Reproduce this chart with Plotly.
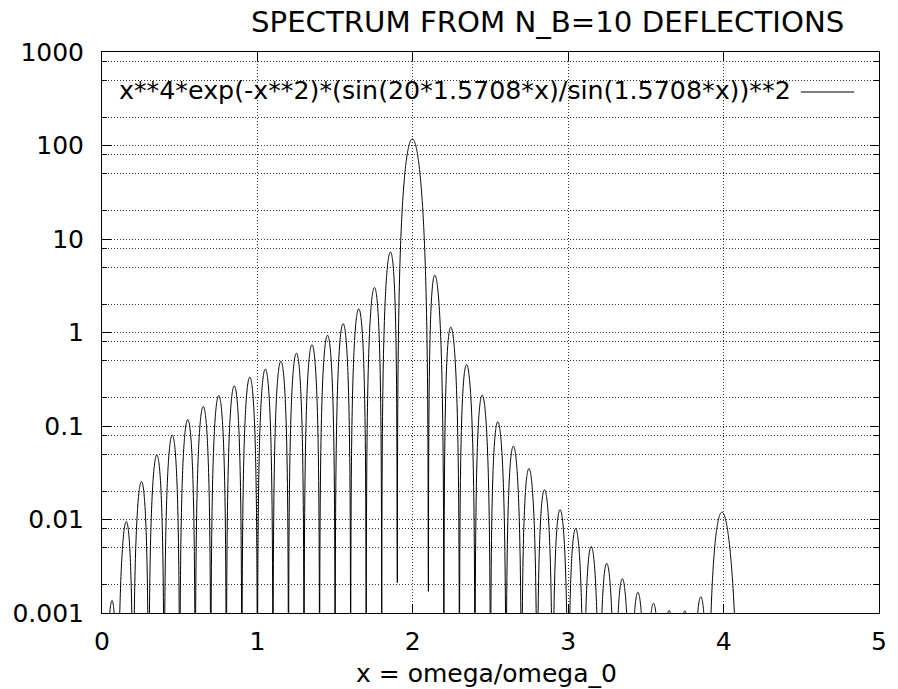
import numpy as np
import plotly.graph_objects as go

# ---- data (the plotted function, as stated in the chart's key) ----
x_min, x_max = 0.0, 5.0
n_samples = 5000
half_pi = 1.5708
n_factor = 20
x_vals = np.linspace(x_min, x_max, n_samples)
with np.errstate(divide="ignore", invalid="ignore"):
    y_vals = x_vals**4 * np.exp(-x_vals**2) * (np.sin(n_factor * half_pi * x_vals) / np.sin(half_pi * x_vals))**2

x_ticks = [0, 1, 2, 3, 4, 5]
y_ticks = [0.001, 0.01, 0.1, 1, 10, 100, 1000]
y_tick_text = ["0.001", "0.01", "0.1", "1", "10", "100", "1000"]
y_minor = [m * 10.0**e for e in range(-3, 3) for m in (2, 5, 8)]

title_text = "SPECTRUM FROM N_B=10 DEFLECTIONS"
key_text = "x**4*exp(-x**2)*(sin(20*1.5708*x)/sin(1.5708*x))**2"
x_label = "x = omega/omega_0"

FONT = "DejaVu Sans"
L, R, T, B = 102, 11, 52, 76
W, H = 898, 689
pw, ph = W - L - R, H - T - B

def px(xp):
    return (xp - L) / pw

def py(yp):
    return (H - B - yp) / ph

GRID_DASH = "1px,2px"
GRID_COLOR = "#333"

fig = go.Figure()
fig.add_trace(go.Scatter(x=x_vals, y=y_vals, mode="lines",
                         line=dict(color="black", width=1, simplify=False),
                         showlegend=False, hoverinfo="skip"))

axis_common = dict(showline=True, linecolor="black", linewidth=1, mirror="allticks",
                   ticks="inside", tickcolor="black", ticklen=9, tickwidth=1,
                   showgrid=True, gridcolor=GRID_COLOR, griddash=GRID_DASH, gridwidth=1,
                   zeroline=False, tickfont=dict(family=FONT, size=25, color="black"))

fig.update_xaxes(range=[x_min, x_max], tickmode="array", tickvals=x_ticks,
                 ticktext=[str(t) for t in x_ticks], ticklabelstandoff=6, **axis_common)
fig.update_yaxes(type="log", range=[-3, 3], tickmode="array", tickvals=y_ticks,
                 ticktext=y_tick_text, ticklabelstandoff=12,
                 minor=dict(tickmode="array", tickvals=y_minor, ticks="inside", ticklen=5,
                            tickcolor="black", showgrid=True, gridcolor=GRID_COLOR,
                            griddash=GRID_DASH, gridwidth=1),
                 **axis_common)

fig.add_annotation(text=title_text, xref="paper", yref="paper",
                   x=px(552), y=py(22), xanchor="center", yanchor="middle",
                   showarrow=False, font=dict(family=FONT, size=29.2, color="black"))
fig.add_annotation(text=x_label, xref="paper", yref="paper",
                   x=px(490), y=py(673), xanchor="center", yanchor="middle",
                   showarrow=False, font=dict(family=FONT, size=25, color="black"))
fig.add_annotation(text=key_text, xref="paper", yref="paper",
                   x=px(800), y=py(91), xanchor="right", yanchor="middle",
                   showarrow=False, font=dict(family=FONT, size=25.3, color="black"),
                   bgcolor="rgba(0,0,0,0)")
fig.add_shape(type="line", xref="paper", yref="paper",
              x0=px(808), x1=px(862), y0=py(92), y1=py(92),
              line=dict(color="black", width=1))

fig.update_layout(width=W, height=H, margin=dict(l=L, r=R, t=T, b=B),
                  paper_bgcolor="white", plot_bgcolor="white", showlegend=False)

fig.write_html("out.html")
